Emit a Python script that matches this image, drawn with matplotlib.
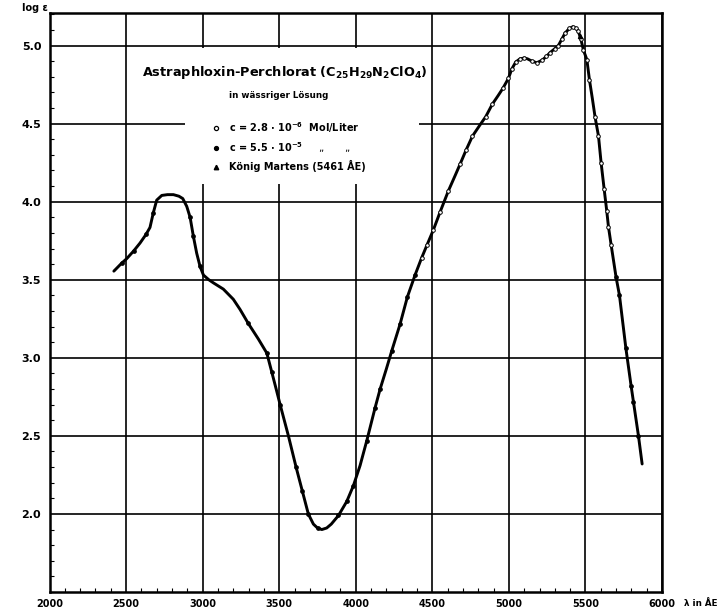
import matplotlib
matplotlib.use("Agg")
import matplotlib.pyplot as plt
from matplotlib.patches import Rectangle
from matplotlib.ticker import MultipleLocator, FixedLocator
from matplotlib.lines import Line2D

# ---- data ----
curve_wl = [2420, 2470, 2504, 2550, 2591, 2630, 2656, 2678, 2700, 2733, 2770, 2809,
            2845, 2870, 2896, 2918, 2939, 2961, 2983, 3005, 3040, 3070, 3135, 3200,
            3244, 3298, 3364, 3419, 3451, 3480, 3506, 3560, 3610, 3650, 3690, 3723,
            3750, 3778, 3810, 3840, 3887, 3941, 3984, 4028, 4072, 4126, 4159, 4200,
            4235, 4289, 4337, 4387, 4430, 4464, 4507, 4551, 4605, 4650, 4681, 4720,
            4762, 4810, 4849, 4892, 4930, 4960, 4997, 5019, 5045, 5073, 5100, 5121,
            5150, 5182, 5215, 5245, 5269, 5300, 5323, 5345, 5367, 5395, 5417, 5440,
            5454, 5470, 5487, 5509, 5526, 5545, 5563, 5585, 5602, 5622, 5639, 5650,
            5668, 5700, 5722, 5764, 5798, 5813, 5846, 5870]
curve_loge = [3.555, 3.605, 3.635, 3.685, 3.735, 3.79, 3.835, 3.93, 4.01, 4.04, 4.045, 4.045,
              4.035, 4.02, 3.97, 3.90, 3.78, 3.67, 3.585, 3.53, 3.50, 3.48, 3.44, 3.375,
              3.31, 3.22, 3.12, 3.03, 2.91, 2.80, 2.70, 2.50, 2.30, 2.15, 2.00, 1.935,
              1.91, 1.90, 1.91, 1.935, 1.99, 2.08, 2.18, 2.31, 2.47, 2.68, 2.80, 2.93,
              3.045, 3.215, 3.39, 3.53, 3.64, 3.72, 3.82, 3.935, 4.07, 4.17, 4.24, 4.33,
              4.42, 4.49, 4.545, 4.625, 4.68, 4.725, 4.79, 4.85, 4.895, 4.915, 4.92, 4.915,
              4.90, 4.89, 4.905, 4.93, 4.955, 4.98, 5.00, 5.04, 5.08, 5.11, 5.12, 5.11,
              5.09, 5.04, 4.97, 4.91, 4.78, 4.66, 4.54, 4.42, 4.25, 4.08, 3.94, 3.84,
              3.72, 3.515, 3.40, 3.06, 2.82, 2.72, 2.50, 2.32]

# c = 5.5e-5 (filled dots)
dots_wl = [2470, 2550, 2630, 2678, 2918, 2939, 2983, 3298, 3419, 3451, 3506, 3610,
           3650, 3690, 3750, 3887, 3941, 3984, 4072, 4126, 4159, 4235, 4289, 4337,
           4387, 5700, 5722, 5764, 5798, 5813, 5846]
dots_loge = [3.605, 3.685, 3.79, 3.93, 3.90, 3.78, 3.585, 3.22, 3.03, 2.91, 2.70, 2.30,
             2.15, 2.00, 1.91, 1.99, 2.08, 2.18, 2.47, 2.68, 2.80, 3.045, 3.215, 3.39,
             3.53, 3.515, 3.40, 3.06, 2.82, 2.72, 2.50]

# c = 2.8e-6 (open circles)
open_wl = [4430, 4464, 4507, 4551, 4605, 4681, 4720, 4762, 4849, 4892, 4960, 4997,
           5019, 5045, 5073, 5100, 5150, 5182, 5215, 5245, 5269, 5300, 5323, 5345,
           5367, 5395, 5417, 5440, 5454, 5470, 5487, 5509, 5526, 5563, 5585, 5602,
           5622, 5639, 5650, 5668]
open_loge = [3.64, 3.72, 3.82, 3.935, 4.07, 4.24, 4.33, 4.42, 4.545, 4.625, 4.725, 4.79,
             4.85, 4.895, 4.915, 4.92, 4.90, 4.89, 4.905, 4.93, 4.955, 4.98, 5.00, 5.04,
             5.08, 5.11, 5.12, 5.11, 5.09, 5.04, 4.97, 4.91, 4.78, 4.54, 4.42, 4.25,
             4.08, 3.94, 3.84, 3.72]

# Koenig Martens point
km_wl = [5461]
km_loge = [5.06]

x_ticks = [2000, 2500, 3000, 3500, 4000, 4500, 5000, 5500, 6000]
x_ticklabels = ["2000", "2500", "3000", "3500", "4000", "4500", "5000", "5500", "6000"]
y_ticks = [2.0, 2.5, 3.0, 3.5, 4.0, 4.5, 5.0]
y_ticklabels = ["2.0", "2.5", "3.0", "3.5", "4.0", "4.5", "5.0"]

title = r"Astraphloxin-Perchlorat (C$_{\mathbf{25}}$H$_{\mathbf{29}}$N$_{\mathbf{2}}$ClO$_{\mathbf{4}}$)"
subtitle = "in wässriger Lösung"
leg_labels = [r"c = 2.8 $\cdot$ 10$^{\mathbf{-6}}$  Mol/Liter",
              r"c = 5.5 $\cdot$ 10$^{\mathbf{-5}}$     „      „",
              "König Martens (5461 ÅE)"]

# ---- figure ----
plt.rcParams['font.family'] = ['DejaVu Sans']
plt.rcParams['mathtext.default'] = 'bf'
fig = plt.figure(figsize=(7.2, 6.1), dpi=100)
ax = fig.add_axes([0.0688, 0.0295, 0.8507, 0.9496])
ax.set_xlim(2000, 6000)
ax.set_ylim(1.5, 5.21)

ax.set_axisbelow(True)
ax.xaxis.set_major_locator(FixedLocator(x_ticks))
ax.yaxis.set_major_locator(FixedLocator(y_ticks))
ax.set_xticklabels(x_ticklabels, fontweight='bold', fontsize=7)
ax.set_yticklabels(y_ticklabels, fontweight='bold', fontsize=8)
ax.xaxis.set_minor_locator(MultipleLocator(100))
ax.yaxis.set_minor_locator(MultipleLocator(0.1))
ax.tick_params(which='major', length=0, pad=6)
ax.tick_params(axis='x', which='major', pad=5)
ax.tick_params(which='minor', direction='in', length=3, width=0.8, color='black')
ax.tick_params(axis='x', which='minor', top=False)
ax.tick_params(axis='y', which='minor', right=False)
ax.grid(True, which='major', color='black', linewidth=1.2)
for sp in ax.spines.values():
    sp.set_linewidth(1.8)
    sp.set_color('black')

# white box behind title/legend
ax.add_patch(Rectangle((2885, 4.11), 1530, 0.875, facecolor='white',
                       edgecolor='none', zorder=1))

ax.plot(curve_wl, curve_loge, color='black', linewidth=2.1, zorder=3,
        solid_capstyle='round')
ax.plot(dots_wl, dots_loge, linestyle='none', marker='o', markersize=2.4,
        color='black', zorder=4)
ax.plot(open_wl, open_loge, linestyle='none', marker='o', markersize=2.6,
        markerfacecolor='white', markeredgecolor='black', markeredgewidth=0.7, zorder=4)
ax.plot(km_wl, km_loge, linestyle='none', marker='^', markersize=3.0,
        color='black', zorder=5)

ax.text(3535, 4.83, title, ha='center', va='center', fontsize=9.3,
        fontweight='bold', zorder=6)
ax.text(3495, 4.68, subtitle, ha='center', va='center', fontsize=6.3,
        fontweight='bold', zorder=6)

handles = [Line2D([], [], linestyle='none', marker='o', markersize=3.0,
                  markerfacecolor='white', markeredgecolor='black', markeredgewidth=0.9),
           Line2D([], [], linestyle='none', marker='o', markersize=2.8, color='black'),
           Line2D([], [], linestyle='none', marker='^', markersize=3.2, color='black')]
leg = ax.legend(handles, leg_labels, loc='upper left', bbox_to_anchor=(0.257, 0.822),
                frameon=False, handlelength=1.0, handletextpad=0.9, labelspacing=0.55,
                prop={'weight': 'bold', 'size': 7}, borderaxespad=0)
leg.set_zorder(6)

fig.text(22 / 720, 1 - 8 / 610, "log ε", ha='left', va='center', fontsize=7,
         fontweight='bold')
fig.text(684 / 720, 1 - 603 / 610, "λ in ÅE", ha='left', va='center', fontsize=6.3,
         fontweight='bold')

fig.savefig("out.png", dpi=100, facecolor='white')
